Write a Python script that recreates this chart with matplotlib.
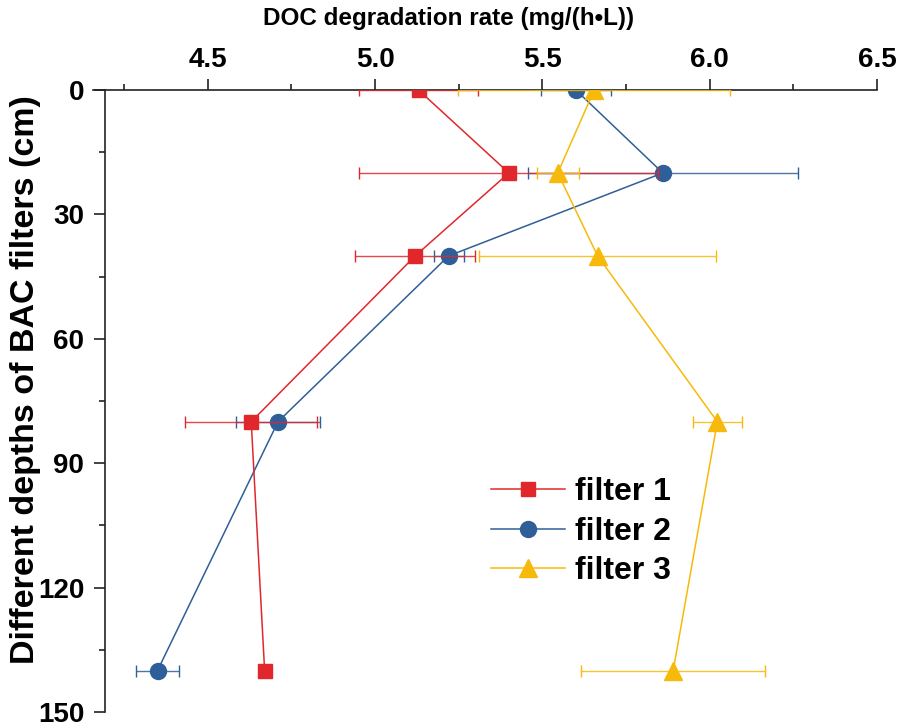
import matplotlib
matplotlib.use('Agg')
import matplotlib.pyplot as plt
from matplotlib.ticker import MultipleLocator

plt.rcParams['font.family'] = ['Liberation Sans', 'DejaVu Sans']
plt.rcParams['font.weight'] = 'bold'

# depths of the BAC filters (cm)
depths = [0, 20, 40, 80, 140]

# DOC degradation rate (mg/(h*L)) and error bars
filter1_rate = [5.13, 5.40, 5.12, 4.63, 4.67]
filter1_err = [0.177, 0.447, 0.18, 0.198, 0.0]
filter2_rate = [5.60, 5.86, 5.22, 4.71, 4.35]
filter2_err = [0.105, 0.403, 0.045, 0.127, 0.063]
filter3_rate = [5.655, 5.546, 5.665, 6.023, 5.891]
filter3_err = [0.406, 0.063, 0.354, 0.074, 0.275]

red = '#e0282c'
blue = '#2f5f98'
yellow = '#f7b90c'

fig = plt.figure(figsize=(8.99, 7.22), dpi=100)
ax = fig.add_axes([0.1034, 0.0139, 0.8721, 0.8614])

common = dict(linewidth=1.1, elinewidth=1.0, capsize=4.5, capthick=1.0)

h2 = ax.errorbar(filter2_rate, depths, xerr=filter2_err, color=blue, marker='o',
                 markersize=11.5, zorder=2, **common)
h1 = ax.errorbar(filter1_rate, depths, xerr=filter1_err, color=red, marker='s',
                 markersize=10, zorder=3, **common)
h3 = ax.errorbar(filter3_rate, depths, xerr=filter3_err, color=yellow, marker='^',
                 markersize=12.5, zorder=4, **common)
for h in (h1, h2, h3):
    for part in h[2]:
        part.set_alpha(0.85)

ax.set_xlim(4.157, 6.5)
ax.set_ylim(150, 0)

ax.xaxis.set_major_locator(MultipleLocator(0.5))
ax.xaxis.set_minor_locator(MultipleLocator(0.25))
ax.yaxis.set_major_locator(MultipleLocator(30))
ax.yaxis.set_minor_locator(MultipleLocator(15))
ax.xaxis.set_major_formatter(plt.FuncFormatter(lambda v, p: f'{v:.1f}'))

ax.xaxis.tick_top()
ax.xaxis.set_label_position('top')
ax.spines['bottom'].set_visible(False)
ax.spines['right'].set_visible(False)
ax.spines['left'].set_position(('data', 4.193))
for s in ('top', 'left'):
    ax.spines[s].set_linewidth(1.2)
    ax.spines[s].set_color('#222222')

ax.tick_params(axis='both', which='major', direction='out', length=8, width=1.2,
               labelsize=20, pad=7, color='#222222')
ax.tick_params(axis='x', which='major', pad=4)
ax.tick_params(axis='both', which='minor', direction='out', length=4.5, width=1.2,
               color='#222222')

ax.set_xlabel('DOC degradation rate (mg/(h\u2022L))', fontsize=17.5, fontweight='bold')
ax.xaxis.set_label_coords(0.453, 1.105)
ax.set_ylabel('Different depths of BAC filters (cm)', fontsize=24.5, fontweight='bold')
ax.yaxis.set_label_coords(-0.066, 0.534)

leg = ax.legend(handles=[h1[0], h2[0], h3[0]], labels=['filter 1', 'filter 2', 'filter 3'],
                loc='upper left', bbox_to_anchor=(0.492, 0.398), frameon=False,
                fontsize=23, handlelength=2.3, handletextpad=0.3, labelspacing=0.3,
                borderaxespad=0)

fig.savefig('out.png', dpi=100)
